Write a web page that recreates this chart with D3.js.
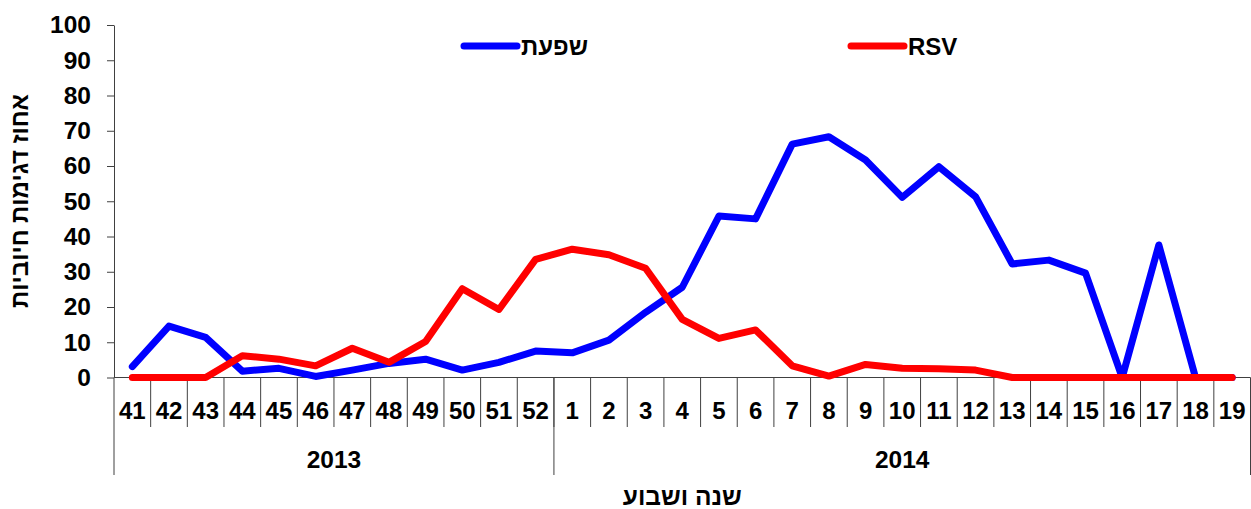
<!DOCTYPE html>
<html>
<head>
<meta charset="utf-8">
<script src="https://cdn.jsdelivr.net/npm/d3@7"></script>
<style>
  html, body { margin: 0; padding: 0; background: #fff; }
  svg { display: block; font-family: "Liberation Sans", Arial, sans-serif; font-weight: bold; }
</style>
</head>
<body>
<svg id="chart" width="1251" height="509"></svg>
<script>
// Weekly percentage of positive samples, weeks 41/2013 – 19/2014
const weeks = ["41","42","43","44","45","46","47","48","49","50","51","52",
               "1","2","3","4","5","6","7","8","9","10","11","12","13","14","15","16","17","18","19"];
const years = [
  { label: "2013", from: "41", to: "52" },
  { label: "2014", from: "1",  to: "19" }
];
const influenza = [3.1, 14.6, 11.4, 1.8, 2.6, 0.3, 2.1, 4.0, 5.2, 2.1, 4.3, 7.5,
                   7.0, 10.6, 18.5, 25.6, 45.8, 45.0, 66.2, 68.3, 61.7, 51.1, 59.8, 51.3,
                   32.2, 33.3, 29.6, 0, 37.6, 0, 0];
const rsv = [0, 0, 0, 6.2, 5.2, 3.3, 8.3, 4.3, 10.2, 25.2, 19.3, 33.5,
             36.4, 34.8, 31.0, 16.5, 11.1, 13.5, 3.3, 0.4, 3.7, 2.6, 2.5, 2.1,
             0, 0, 0, 0, 0, 0, 0];
const yTicks = [0, 10, 20, 30, 40, 50, 60, 70, 80, 90, 100];
const seriesNames = ["שפעת", "RSV"];

const svg = d3.select("#chart");
const plotLeft = 114, plotRight = 1250.5, plotTop = 25, plotBottom = 377.5;

const x = d3.scaleBand().domain(weeks).range([plotLeft, plotRight]).padding(0);
const y = d3.scaleLinear().domain([0, 100]).range([plotBottom, plotTop]);
const axisColor = "#404040";

// Y axis
const yAxis = svg.append("g")
  .attr("transform", `translate(${plotLeft},0)`)
  .call(d3.axisLeft(y).tickValues(yTicks).tickSize(7).tickSizeOuter(0).tickPadding(16));
yAxis.select(".domain").attr("stroke", axisColor);
yAxis.selectAll(".tick line").attr("stroke", axisColor);
yAxis.selectAll(".tick text")
  .attr("font-size", 24.5).attr("font-weight", "bold").attr("fill", "#000")
  .attr("font-family", "Liberation Sans, Arial, sans-serif");

// X baseline
svg.append("line")
  .attr("x1", plotLeft).attr("x2", plotRight).attr("y1", plotBottom).attr("y2", plotBottom)
  .attr("stroke", axisColor);

// Week separators
const weekEdges = weeks.slice(1).map(w => x(w));
svg.append("g").selectAll("line").data(weekEdges).join("line")
  .attr("x1", d => d).attr("x2", d => d)
  .attr("y1", plotBottom).attr("y2", 427)
  .attr("stroke", axisColor);

// Year separators
const yearEdges = [x(years[0].from), x(years[1].from), x(years[1].to) + x.bandwidth()];
svg.append("g").selectAll("line").data(yearEdges).join("line")
  .attr("x1", d => d).attr("x2", d => d)
  .attr("y1", plotBottom).attr("y2", 475)
  .attr("stroke", axisColor);

// Week labels
svg.append("g").selectAll("text").data(weeks).join("text")
  .attr("x", d => x(d) + x.bandwidth() / 2)
  .attr("y", 419)
  .attr("text-anchor", "middle")
  .attr("font-size", 24)
  .text(d => d);

// Year labels
svg.append("g").selectAll("text").data(years).join("text")
  .attr("x", d => (x(d.from) + x(d.to) + x.bandwidth()) / 2)
  .attr("y", 468)
  .attr("text-anchor", "middle")
  .attr("font-size", 24.5)
  .text(d => d.label);

// Axis titles
svg.append("text")
  .attr("x", (plotLeft + plotRight) / 2).attr("y", 505)
  .attr("text-anchor", "middle").attr("font-size", 24.5)
  .text("שנה ושבוע");
svg.append("text")
  .attr("transform", "translate(28,201) rotate(-90)")
  .attr("text-anchor", "middle").attr("font-size", 24)
  .text("אחוז דגימות חיוביות");

// Series lines
const line = d3.line()
  .x((d, i) => x(weeks[i]) + x.bandwidth() / 2)
  .y(d => y(d));

const series = [
  { name: seriesNames[0], values: influenza, color: "#0000FF" },
  { name: seriesNames[1], values: rsv, color: "#FF0000" }
];

svg.append("g").selectAll("path").data(series).join("path")
  .attr("d", d => line(d.values))
  .attr("fill", "none")
  .attr("stroke", d => d.color)
  .attr("stroke-width", 7)
  .attr("stroke-linejoin", "round")
  .attr("stroke-linecap", "round");

// Legend
const legendPos = [{ x: 464, y: 46 }, { x: 851, y: 46 }];
const legend = svg.append("g").selectAll("g").data(series).join("g")
  .attr("transform", (d, i) => `translate(${legendPos[i].x},${legendPos[i].y})`);
legend.append("line")
  .attr("x1", 0).attr("x2", 53).attr("y1", 0).attr("y2", 0)
  .attr("stroke", d => d.color).attr("stroke-width", 7).attr("stroke-linecap", "round");
legend.append("text")
  .attr("x", 57).attr("y", 9)
  .attr("font-size", 24)
  .text(d => d.name);
</script>
</body>
</html>
